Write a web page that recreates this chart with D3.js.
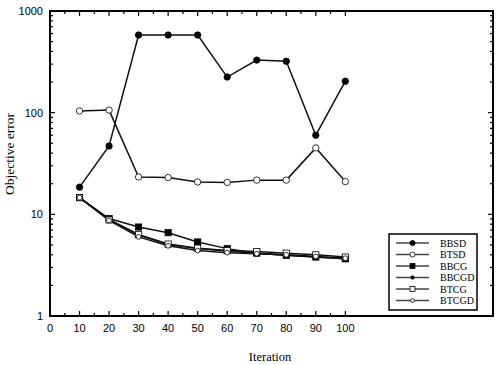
<!DOCTYPE html>
<html>
<head>
<meta charset="utf-8">
<style>
	body { margin: 0; background: #fff; }
	svg { display: block; }
</style>
</head>
<body>
<script src="https://d3js.org/d3.v7.min.js"></script>
<script>

var iterations = [10, 20, 30, 40, 50, 60, 70, 80, 90, 100];
var seriesNames = ["BBSD", "BTSD", "BBCG", "BBCGD", "BTCG", "BTCGD"];
var bbsd  = [18.5, 47, 580, 580, 580, 224, 329, 320, 60, 204];
var btsd  = [104, 106, 23.3, 23, 20.8, 20.6, 21.7, 21.7, 45, 21];
var bbcg  = [14.6, 9.1, 7.5, 6.6, 5.35, 4.6, 4.15, 3.95, 3.8, 3.65];
var bbcgd = [14.6, 8.9, 6.3, 5.05, 4.6, 4.35, 4.15, 3.95, 3.8, 3.65];
var btcg  = [14.6, 8.8, 6.3, 5.1, 4.65, 4.4, 4.3, 4.15, 4.0, 3.8];
var btcgd = [14.6, 8.7, 6.0, 4.9, 4.4, 4.2, 4.1, 4.0, 3.85, 3.7];
var xTicks = [0, 10, 20, 30, 40, 50, 60, 70, 80, 90, 100];
var yTicks = [1, 10, 100, 1000];

var width = 498, height = 365;
var pLeft = 50, pRight = 493, pTop = 11, pBottom = 316;

var svg = d3.select("body").append("svg")
	.attr("width", width)
	.attr("height", height);

var x = d3.scaleLinear().domain([0, 150]).range([pLeft, pRight]);
var y = d3.scaleLog().domain([1, 1000]).range([pBottom, pTop]);

// minor ticks
var xMinor = d3.range(5, 100, 10);
var yMinor = [];
[1, 10, 100].forEach(function(d) {
	for (var k = 2; k < 10; k++) yMinor.push(d * k);
});

var ticks = svg.append("g").attr("stroke", "#000").attr("stroke-width", 1.2);

xTicks.forEach(function(t) {
	ticks.append("line").attr("x1", x(t)).attr("x2", x(t)).attr("y1", pBottom).attr("y2", pBottom - 5);
	ticks.append("line").attr("x1", x(t)).attr("x2", x(t)).attr("y1", pTop).attr("y2", pTop + 5);
});
xMinor.forEach(function(t) {
	ticks.append("line").attr("x1", x(t)).attr("x2", x(t)).attr("y1", pBottom).attr("y2", pBottom - 3);
	ticks.append("line").attr("x1", x(t)).attr("x2", x(t)).attr("y1", pTop).attr("y2", pTop + 3);
});
yTicks.forEach(function(t) {
	ticks.append("line").attr("x1", pLeft).attr("x2", pLeft + 5).attr("y1", y(t)).attr("y2", y(t));
	ticks.append("line").attr("x1", pRight).attr("x2", pRight - 5).attr("y1", y(t)).attr("y2", y(t));
});
yMinor.forEach(function(t) {
	ticks.append("line").attr("x1", pLeft).attr("x2", pLeft + 3).attr("y1", y(t)).attr("y2", y(t));
	ticks.append("line").attr("x1", pRight).attr("x2", pRight - 3).attr("y1", y(t)).attr("y2", y(t));
});

// frame
svg.append("rect")
	.attr("x", pLeft).attr("y", pTop)
	.attr("width", pRight - pLeft).attr("height", pBottom - pTop)
	.attr("fill", "none").attr("stroke", "#000").attr("stroke-width", 2);

// tick labels
svg.append("g")
	.attr("font-family", "Liberation Sans, Arial, sans-serif")
	.attr("font-size", 11)
	.attr("text-anchor", "middle")
	.selectAll("text")
	.data(xTicks)
	.join("text")
		.attr("x", function(d) { return x(d); })
		.attr("y", 332)
		.text(function(d) { return d; });

svg.append("g")
	.attr("font-family", "Liberation Sans, Arial, sans-serif")
	.attr("font-size", 11)
	.attr("text-anchor", "end")
	.selectAll("text")
	.data(yTicks)
	.join("text")
		.attr("x", 43)
		.attr("y", function(d) { return y(d); })
		.attr("dy", "0.35em")
		.text(function(d) { return d; });

// axis titles
svg.append("text")
	.attr("font-family", "Liberation Serif, Times New Roman, serif")
	.attr("font-size", 12.5)
	.attr("text-anchor", "middle")
	.attr("x", 270).attr("y", 361)
	.text("Iteration");

svg.append("text")
	.attr("font-family", "Liberation Serif, Times New Roman, serif")
	.attr("font-size", 13.5)
	.attr("text-anchor", "middle")
	.attr("transform", "translate(14,154) rotate(-90)")
	.text("Objective error");

// series
var shapes = ["circle", "circle", "square", "circle", "square", "circle"];
var sizes = [3.2, 3.2, 3.1, 2.2, 3.1, 2.4];
var fills = ["#000", "#fff", "#000", "#000", "#fff", "#fff"];
var allValues = [bbsd, btsd, bbcg, bbcgd, btcg, btcgd];
var series = seriesNames.map(function(n, i) {
	return { name: n, values: allValues[i], shape: shapes[i], size: sizes[i], fill: fills[i] };
});

var line = d3.line()
	.x(function(d, i) { return x(iterations[i]); })
	.y(function(d) { return y(d); });

function marker(g, s, cx, cy, k) {
	var r = s.size * (k || 1);
	if (s.shape === "circle") {
		g.append("circle").attr("cx", cx).attr("cy", cy).attr("r", r)
			.attr("fill", s.fill).attr("stroke", "#000").attr("stroke-width", 0.8);
	} else {
		g.append("rect").attr("x", cx - r).attr("y", cy - r)
			.attr("width", r * 2).attr("height", r * 2)
			.attr("fill", s.fill).attr("stroke", "#000").attr("stroke-width", 0.8);
	}
}

var plot = svg.append("g");
series.forEach(function(s) {
	plot.append("path")
		.attr("d", line(s.values))
		.attr("fill", "none")
		.attr("stroke", "#111")
		.attr("stroke-width", 1.5);
});
series.forEach(function(s) {
	var g = plot.append("g");
	s.values.forEach(function(v, i) { marker(g, s, x(iterations[i]), y(v)); });
});

// legend
var legend = svg.append("g");
legend.append("rect")
	.attr("x", 389).attr("y", 234).attr("width", 88).attr("height", 76)
	.attr("fill", "#fff").attr("stroke", "#000").attr("stroke-width", 1.5);

series.forEach(function(s, i) {
	var ly = 243 + i * 11.5;
	legend.append("line")
		.attr("x1", 396).attr("x2", 429).attr("y1", ly).attr("y2", ly)
		.attr("stroke", "#444").attr("stroke-width", 1.5);
	marker(legend, s, 412.5, ly, 0.8);
	legend.append("text")
		.attr("font-family", "Liberation Serif, Times New Roman, serif")
		.attr("font-size", 10)
		.attr("x", 440).attr("y", ly)
		.attr("dy", "0.35em")
		.text(s.name);
});

</script>
</body>
</html>
